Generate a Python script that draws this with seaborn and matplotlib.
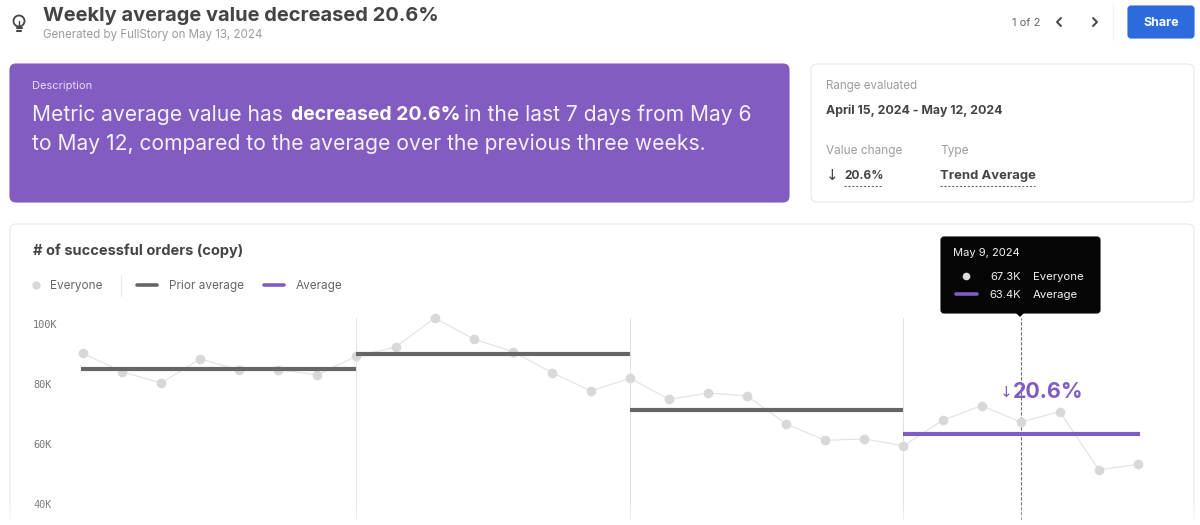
import pandas as pd
import numpy as np
from matplotlib import pyplot as plt
from matplotlib.patches import FancyBboxPatch, Polygon
import seaborn as sb

# values, one point per day Apr 15 - May 12
days = list(range(28))
everyone = [90200, 84100, 80300, 88400, 84600, 84800, 83000, 89300, 92300, 102000,
            95000, 90800, 83800, 77700, 81900, 74900, 77000, 76000, 66700, 61200,
            61700, 59400, 67900, 72800, 67300, 70800, 51400, 53200]

prior_values = [85000, 90100, 71300]
prior_starts = [-0.05, 7, 14]
prior_ends = [7, 14, 21]
avg_value = 63400
avg_start = 21
avg_end = 27.05
week_lines = [7, 14, 21]
selected_day = 24
yticks = [40000, 60000, 80000, 100000]
ytick_labels = ['40K', '60K', '80K', '100K']

PURPLE = '#825cc0'
LINE_PURPLE = '#7f5cc4'
DARK = '#444444'
MID = '#666666'
LIGHT = '#9c9c9c'
DOT = '#d8d8d8'

sb.set_theme(style='white')
plt.rcParams['font.family'] = ['Inter', 'DejaVu Sans']

fig = plt.figure(figsize=(12, 5.25), dpi=100, facecolor='white')

# page chrome is drawn on a full size axes in pixel coordinates
page = fig.add_axes([0, 0, 1, 1])
page.set_xlim(0, 1200)
page.set_ylim(525, 0)
page.axis('off')


def card(x0, y0, x1, y1, face='white', edge='#e8e8e8', r=6, z=1):
    page.add_patch(FancyBboxPatch((x0 + r, y0 + r), x1 - x0 - 2 * r, y1 - y0 - 2 * r,
                                  boxstyle='round,pad=%d,rounding_size=%d' % (r, r),
                                  fc=face, ec=edge, lw=0.8, zorder=z))


def label(x, y, s, size=8, color=MID, weight='normal', ha='left', z=5, **kw):
    page.text(x, y + 0.8, s, fontsize=size, color=color, fontweight=weight, ha=ha, va='center', zorder=z, **kw)


# header
label(43, 15, 'Weekly average value decreased 20.6%', 14.45, DARK, 'bold')
label(43, 34, 'Generated by FullStory on May 13, 2024', 8.3, LIGHT)
page.add_patch(plt.Circle((19, 21), 5.5, fc='none', ec=DARK, lw=1.3))
page.plot([16.5, 21.5], [28, 28], color=DARK, lw=1.5)
page.plot([17, 21], [30.5, 30.5], color=DARK, lw=1.5)
page.plot([19, 19], [21, 27], color=DARK, lw=1)

label(1012, 22, '1 of 2', 8, MID)
page.plot([1061, 1057, 1061], [18, 22, 26], color=DARK, lw=1.4)
page.plot([1093, 1097, 1093], [18, 22, 26], color=DARK, lw=1.4)
page.plot([1113, 1113], [4, 40], color='#f2f2f2', lw=1)
card(1128, 6, 1194, 38, face='#2b6bde', edge='#2b6bde', r=3)
label(1161, 22, 'Share', 9, 'white', 'bold', ha='center')

# description card
card(10, 64, 789, 202, face=PURPLE, edge=PURPLE)
label(32, 85, 'Description', 8, '#e6ddf5')
label(32, 114, 'Metric average value has', 15.15, '#f4f0fa')
label(291, 114, 'decreased 20.6%', 14, 'white', 'bold')
label(464, 114, 'in the last 7 days from May 6', 15.15, '#f4f0fa')
label(32, 143, 'to May 12, compared to the average over the previous three weeks.', 15.15, '#f4f0fa')

# range card
card(811, 64, 1194, 202)
label(826, 85, 'Range evaluated', 8.3, LIGHT)
label(826, 110, 'April 15, 2024 - May 12, 2024', 8.9, DARK, 'bold')
label(826, 150, 'Value change', 8.5, LIGHT)
label(940, 150, 'Type', 8.5, LIGHT)
label(832, 175, '↓', 11, DARK, ha='center', family='DejaVu Sans')
label(844, 175, '20.6%', 8.6, DARK, 'bold')
label(940, 175, 'Trend Average', 9.4, DARK, 'bold')
page.plot([844, 882], [186, 186], color=MID, lw=0.8, ls=(0, (2, 1.5)))
page.plot([940, 1035], [186, 186], color=MID, lw=0.8, ls=(0, (2, 1.5)))

# chart card runs off the bottom of the picture
card(10, 224, 1194, 560)
label(33, 250, '# of successful orders (copy)', 10.5, DARK, 'bold')

# legend
page.scatter([36], [285], s=36, color=DOT, linewidths=0, zorder=5)
label(50, 285, 'Everyone', 8.5, MID)
page.plot([121, 121], [275, 296], color='#e8e8e8', lw=0.8)
page.plot([137, 157], [285, 285], color=MID, lw=2.6, solid_capstyle='round')
label(169, 285, 'Prior average', 8.5, MID)
page.plot([264, 284], [285, 285], color=LINE_PURPLE, lw=2.6, solid_capstyle='round')
label(296, 285, 'Average', 8.5, MID)

# chart axes, day 0 sits at pixel 83, one day is 39.07 pixels, 20K is 60 pixels
left, right, top, bottom = 70, 1160, 318, 520
ax = fig.add_axes([left / 1200, 1 - bottom / 525, (right - left) / 1200, (bottom - top) / 525])
ax.patch.set_alpha(0)
ax.set_xlim((left - 83) / 39.07, (right - 83) / 39.07)
ax.set_ylim(100000 - (bottom - 324) / 3 * 1000, 100000 + (324 - top) / 3 * 1000)

for d in week_lines:
    ax.axvline(d, color='#e2e2e2', lw=0.7, zorder=1)
ax.axvline(selected_day, color='#6e6e6e', lw=0.8, ls=(0, (3, 1.5)), zorder=2)

df = pd.DataFrame({'day': days, 'value': everyone})
sb.lineplot(data=df, x='day', y='value', estimator=None, color='#e4e4e4', lw=0.9,
            marker='o', markersize=6.2, markerfacecolor=DOT, markeredgecolor=DOT,
            clip_on=False, legend=False, zorder=3, ax=ax)

for val, start, end in zip(prior_values, prior_starts, prior_ends):
    sb.lineplot(x=[start, end], y=[val, val], color=MID, lw=3, legend=False, zorder=4, ax=ax,
                solid_capstyle='butt')
sb.lineplot(x=[avg_start, avg_end], y=[avg_value, avg_value], color=LINE_PURPLE, lw=3,
            legend=False, zorder=4, ax=ax, solid_capstyle='butt')

ax.set_xticks([])
ax.set_yticks(yticks)
ax.set_yticklabels(ytick_labels, family='DejaVu Sans Mono', fontsize=7.4, color='#777777', ha='left')
ax.tick_params(axis='y', length=0, pad=26.6)
ax.set_xlabel('')
ax.set_ylabel('')
sb.despine(ax=ax, left=True, bottom=True, top=True, right=True)

# tooltip and callout go on top of the chart
over = fig.add_axes([0, 0, 1, 1])
over.set_xlim(0, 1200)
over.set_ylim(525, 0)
over.axis('off')
page = over
card(941, 237, 1100, 313, face='#050505', edge='#050505', r=3, z=6)
over.add_patch(Polygon([[1016, 313], [1024, 313], [1020, 317]], fc='#050505', ec='none', zorder=6))
label(953, 252, 'May 9, 2024', 8, '#f2f2f2', z=7)
over.scatter([966], [276], s=30, color='#dddddd', linewidths=0, zorder=7)
over.plot([956, 977], [294, 294], color=LINE_PURPLE, lw=2.6, zorder=7)
label(1021, 276, '67.3K', 8, '#f2f2f2', ha='right', z=7)
label(1021, 294, '63.4K', 8, '#f2f2f2', ha='right', z=7)
label(1033, 276, 'Everyone', 8.2, '#f2f2f2', z=7)
label(1033, 294, 'Average', 8.2, '#f2f2f2', z=7)

label(1006, 392, '↓', 11, LINE_PURPLE, ha='center', family='DejaVu Sans', z=7)
label(1013, 391, '20.6%', 15.4, LINE_PURPLE, 'bold', z=7)

# white fade along the bottom edge
fade = np.linspace(0, 1, 20).reshape(-1, 1)
over.imshow(np.dstack([np.ones((20, 1, 3)), fade * 0.45]), extent=(0, 1200, 520, 500),
            aspect='auto', zorder=8)
over.fill_between([0, 1200], 520, 525, color='white', lw=0, zorder=8)
over.set_xlim(0, 1200)
over.set_ylim(525, 0)

plt.savefig('out.png', dpi=100)
